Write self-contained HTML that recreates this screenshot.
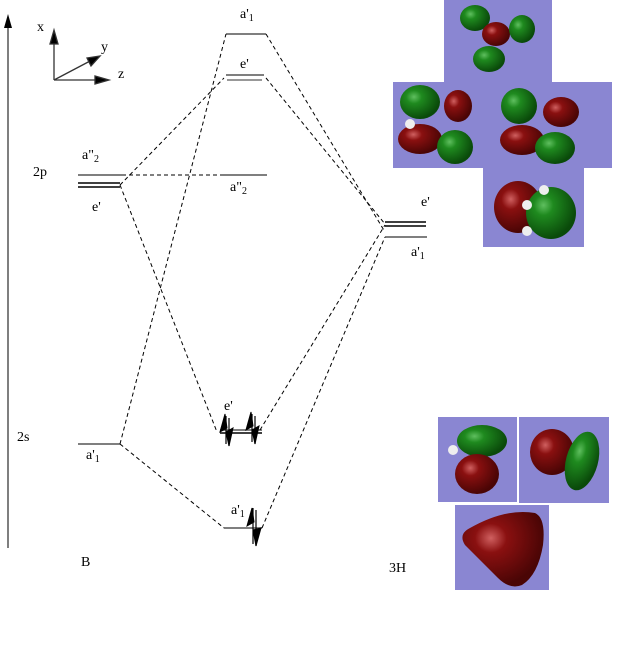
<!DOCTYPE html>
<html><head><style>body{margin:0;background:#fff}svg{display:block}text{font-family:"Liberation Serif",serif;fill:#000}</style></head><body>
<svg width="639" height="658" viewBox="0 0 639 658" xmlns="http://www.w3.org/2000/svg">
<defs>
<radialGradient id="g" cx="35%" cy="35%" r="65%"><stop offset="0" stop-color="#5fbf5f"/><stop offset="0.3" stop-color="#1f8a1f"/><stop offset="1" stop-color="#0a4a0a"/></radialGradient>
<radialGradient id="r" cx="35%" cy="35%" r="65%"><stop offset="0" stop-color="#d06060"/><stop offset="0.3" stop-color="#8a1010"/><stop offset="1" stop-color="#4a0505"/></radialGradient>
</defs>
<line x1="8" y1="548" x2="8" y2="26" stroke="#555" stroke-width="1.5"/>
<polygon points="8,14 4,28 12,28" fill="#000"/>
<g stroke="#333" stroke-width="1.3" fill="#000">
<line x1="54" y1="80" x2="54" y2="40"/><polygon points="54,30 50,44 58,44"/>
<line x1="54" y1="80" x2="98" y2="80"/><polygon points="109,80 95,76 95,84"/>
<line x1="54" y1="80" x2="92" y2="60"/><polygon points="100,56 87,58 91,66"/>
</g>
<text x="37" y="31" font-size="14">x</text>
<text x="101" y="51" font-size="14">y</text>
<text x="118" y="78" font-size="14">z</text>
<g stroke="#555" stroke-width="1.5">
<line x1="78" y1="175" x2="122" y2="175"/>
<line x1="78" y1="183" x2="120" y2="183" stroke="#000"/>
<line x1="78" y1="187" x2="120" y2="187" stroke="#000"/>
<line x1="78" y1="444" x2="120" y2="444"/>
<line x1="226" y1="34" x2="266" y2="34"/>
<line x1="226" y1="75" x2="264" y2="75"/>
<line x1="227" y1="80" x2="262" y2="80" stroke="#777"/>
<line x1="223" y1="175" x2="267" y2="175"/>
<line x1="385" y1="222" x2="426" y2="222" stroke="#000"/>
<line x1="385" y1="226" x2="426" y2="226" stroke="#000"/>
<line x1="385" y1="237" x2="427" y2="237"/>
<line x1="220" y1="430" x2="262" y2="430"/>
<line x1="220" y1="433" x2="262" y2="433" stroke="#000"/>
<line x1="224" y1="528" x2="262" y2="528"/>
</g>
<g stroke="#000" stroke-width="1" stroke-dasharray="4,3" fill="none">
<line x1="120" y1="444" x2="226" y2="34"/>
<line x1="120" y1="444" x2="224" y2="528"/>
<line x1="266" y1="34" x2="385" y2="232"/>
<line x1="262" y1="528" x2="385" y2="237"/>
<line x1="120" y1="185" x2="224" y2="78"/>
<line x1="120" y1="185" x2="217" y2="432"/>
<line x1="266" y1="78" x2="385" y2="224"/>
<line x1="260" y1="430" x2="385" y2="225"/>
<line x1="122" y1="175" x2="223" y2="175"/>
</g>
<g fill="#000" stroke="#000">
<line x1="226" y1="416" x2="226" y2="444" stroke-width="1.2"/><line x1="229" y1="418" x2="229" y2="446" stroke-width="1.2"/>
<polygon points="225,414 220,432 227,428"/><polygon points="229,446 233,428 226,432"/>
<line x1="252" y1="414" x2="252" y2="442" stroke-width="1.2"/><line x1="255" y1="416" x2="255" y2="444" stroke-width="1.2"/>
<polygon points="251,412 246,430 253,426"/><polygon points="255,444 259,426 252,430"/>
<line x1="253" y1="508" x2="253" y2="544" stroke-width="1.2"/><line x1="256" y1="510" x2="256" y2="546" stroke-width="1.2"/>
<polygon points="252,508 247,526 254,522"/><polygon points="256,546 261,528 253,530"/>
</g>
<g font-size="14">
<text x="240" y="18">a'<tspan font-size="10" dy="3">1</tspan></text>
<text x="240" y="68">e'</text>
<text x="82" y="159">a"<tspan font-size="10" dy="3">2</tspan></text>
<text x="33" y="176">2p</text>
<text x="92" y="211">e'</text>
<text x="230" y="191">a"<tspan font-size="10" dy="3">2</tspan></text>
<text x="421" y="206">e'</text>
<text x="411" y="256">a'<tspan font-size="10" dy="3">1</tspan></text>
<text x="17" y="441">2s</text>
<text x="86" y="459">a'<tspan font-size="10" dy="3">1</tspan></text>
<text x="224" y="410">e'</text>
<text x="231" y="514">a'<tspan font-size="10" dy="3">1</tspan></text>
<text x="81" y="566">B</text>
<text x="389" y="572">3H</text>
</g>
<g fill="#8a86d2">
<rect x="444" y="0" width="108" height="82"/>
<rect x="393" y="82" width="219" height="86"/>
<rect x="483" y="168" width="101" height="79"/>
<rect x="438" y="417" width="79" height="85"/>
<rect x="519" y="417" width="90" height="86"/>
<rect x="455" y="505" width="94" height="85"/>
</g>
<ellipse cx="475" cy="18" rx="15" ry="13" fill="url(#g)"/>
<ellipse cx="496" cy="34" rx="14" ry="12" fill="url(#r)"/>
<ellipse cx="522" cy="29" rx="13" ry="14" fill="url(#g)"/>
<ellipse cx="489" cy="59" rx="16" ry="13" fill="url(#g)"/>
<ellipse cx="420" cy="102" rx="20" ry="17" fill="url(#g)"/>
<ellipse cx="458" cy="106" rx="14" ry="16" fill="url(#r)"/>
<ellipse cx="420" cy="139" rx="22" ry="15" fill="url(#r)"/>
<ellipse cx="455" cy="147" rx="18" ry="17" fill="url(#g)"/>
<circle cx="410" cy="124" r="5" fill="#eee"/>
<ellipse cx="519" cy="106" rx="18" ry="18" fill="url(#g)"/>
<ellipse cx="561" cy="112" rx="18" ry="15" fill="url(#r)"/>
<ellipse cx="522" cy="140" rx="22" ry="15" fill="url(#r)"/>
<ellipse cx="555" cy="148" rx="20" ry="16" fill="url(#g)"/>
<ellipse cx="518" cy="207" rx="24" ry="26" fill="url(#r)"/>
<ellipse cx="551" cy="213" rx="25" ry="26" fill="url(#g)"/>
<circle cx="527" cy="205" r="5" fill="#eee"/><circle cx="527" cy="231" r="5" fill="#eee"/><circle cx="544" cy="190" r="5" fill="#eee"/>
<ellipse cx="482" cy="441" rx="25" ry="16" fill="url(#g)"/>
<ellipse cx="477" cy="474" rx="22" ry="20" fill="url(#r)"/>
<circle cx="453" cy="450" r="5" fill="#eee"/>
<ellipse cx="552" cy="452" rx="22" ry="23" fill="url(#r)"/>
<ellipse cx="582" cy="461" rx="16" ry="30" transform="rotate(15 582 461)" fill="url(#g)"/>
<path d="M470,528 Q505,508 535,513 Q546,518 543,545 Q538,575 522,585 Q510,590 498,578 Q475,555 465,545 Q458,534 470,528Z" fill="url(#r)"/>
</svg>
</body></html>
